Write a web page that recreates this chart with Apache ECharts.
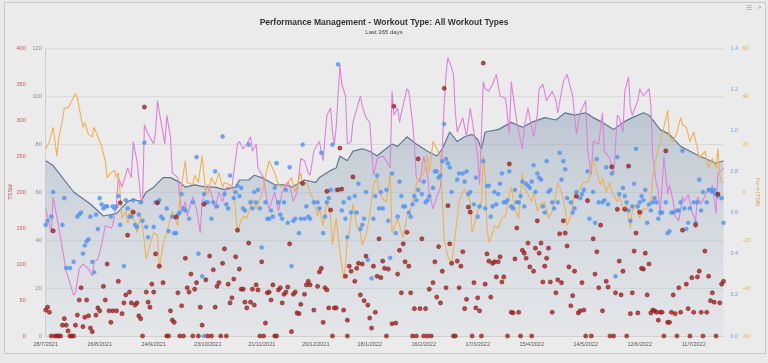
<!DOCTYPE html>
<html><head><meta charset="utf-8">
<script src="https://cdn.jsdelivr.net/npm/echarts@6/dist/echarts.min.js"></script>
<style>
html,body{margin:0;padding:0;background:#e9e9ea;}
#wrap{position:absolute;left:4px;top:2px;width:760px;height:350px;border:1px solid #c9c9c9;background:#ebebec;}
#chart{position:absolute;left:0;top:0;width:768px;height:363px;}
</style></head><body>
<div id="wrap"></div><div id="chart"></div>
<script>
const startDate = '28/7/2021';
const xLabels = ['28/7/2021','26/8/2021','24/9/2021','23/10/2021','21/11/2021','20/12/2021','18/1/2022','16/2/2022','17/3/2022','15/4/2022','14/5/2022','12/6/2022','11/7/2022'];
const tssTicks = [0,50,100,150,200,250,300,350,400];
const loadTicks = [0,20,40,60,80,100,120];
const ifTicks = [0,0.2,0.4,0.6,0.8,1.0,1.2,1.4];
const formTicks = [-60,-40,-20,0,20,40,60];

// CTL (fitness) [day, value]
const ctl = [[0,73],[4,71],[15,60],[24,55],[31,50],[38,51],[44,56],[47,57],[51,56],[54,60],[58,62],[63,66],[67,66],[72,64],[75,62],[80,63],[86,62],[91,62],[96,61],[102,62],[104,65],[109,65],[112,67],[116,66],[123,63],[129,63],[132,62],[139,65],[145,64],[147,66],[153,69],[156,70],[158,75],[162,73],[165,77],[170,78],[174,77],[178,75],[181,77],[186,80],[189,79],[194,83],[199,80],[205,77],[210,75],[213,78],[217,85],[221,81],[225,83],[229,84],[232,82],[234,78],[236,85],[243,86],[250,89],[256,87],[261,89],[268,91],[274,90],[279,93],[284,92],[290,93],[294,91],[299,89],[305,86],[310,89],[315,91],[321,93],[324,92],[330,86],[335,84],[341,79],[346,77],[351,75],[357,73],[360,72],[364,73]];

// ATL (fatigue) [day, value]
const atl = [[0,53],[3,43],[4,58],[8,41],[11,27],[15,17],[16,18],[18,28],[20,30],[23,28],[25,25],[26,31],[28,32],[30,38],[32,46],[35,45],[36,46],[38,55],[39,66],[41,62],[44,70],[46,66],[47,81],[49,73],[51,58],[52,55],[53,88],[55,84],[58,80],[59,85],[60,98],[62,89],[64,80],[65,92],[67,83],[68,68],[71,66],[72,58],[73,52],[75,56],[76,50],[79,58],[81,53],[83,43],[84,56],[87,63],[89,59],[91,53],[93,60],[95,56],[97,62],[100,62],[103,80],[104,81],[106,78],[108,80],[110,83],[111,77],[113,80],[114,70],[117,66],[119,56],[120,53],[123,60],[125,52],[127,60],[130,64],[131,63],[133,56],[135,60],[137,74],[139,73],[141,68],[142,67],[144,77],[146,80],[147,81],[149,73],[151,92],[153,95],[154,85],[155,80],[156,87],[158,113],[159,105],[161,100],[162,80],[164,81],[165,89],[169,100],[170,96],[172,91],[174,89],[176,67],[177,70],[178,74],[181,75],[183,73],[185,70],[186,102],[187,92],[189,95],[190,89],[191,93],[194,103],[195,102],[197,89],[198,80],[199,66],[201,64],[203,75],[205,67],[206,60],[208,53],[210,58],[212,62],[213,78],[214,96],[215,109],[216,116],[217,114],[219,109],[220,93],[221,85],[224,91],[226,83],[228,95],[232,75],[233,63],[235,106],[236,103],[238,102],[240,105],[242,109],[244,100],[247,99],[249,84],[250,106],[253,89],[256,78],[257,87],[259,95],[262,83],[264,92],[265,103],[267,105],[269,98],[272,102],[274,98],[275,93],[278,106],[280,109],[283,100],[285,84],[287,93],[290,98],[291,78],[293,67],[294,81],[297,80],[299,93],[300,77],[303,74],[305,67],[307,92],[308,91],[310,85],[311,102],[313,108],[314,95],[315,92],[318,98],[319,103],[321,100],[324,103],[325,96],[326,75],[328,63],[329,61],[330,50],[332,75],[334,59],[335,63],[337,56],[338,50],[340,48],[342,58],[343,56],[345,59],[347,52],[349,48],[350,58],[352,55],[355,60],[357,60],[358,63],[360,51],[361,68],[363,69],[364,70]];

// TSB (form) [day, value]
const tsb = [[0,18],[2,21],[4,27],[6,15],[7,22],[9,30],[10,35],[12,35],[14,38],[16,41],[17,39],[20,27],[21,29],[23,24],[25,23],[26,27],[28,23],[30,19],[32,13],[33,6],[35,8],[37,9],[38,6],[39,8],[40,-1],[41,-11],[43,-8],[44,-13],[46,-7],[49,-17],[51,-10],[52,-14],[54,-28],[56,-22],[58,-17],[60,-18],[61,-32],[63,-22],[65,-17],[68,-8],[71,-14],[72,-3],[73,3],[75,13],[76,4],[79,3],[80,7],[82,4],[84,15],[86,0],[87,-1],[89,6],[91,3],[93,8],[95,2],[96,4],[99,3],[101,0],[103,-17],[104,-14],[106,-10],[108,-11],[111,-3],[113,-7],[116,-1],[119,10],[120,13],[123,8],[125,3],[127,2],[130,4],[132,6],[134,0],[137,8],[138,3],[140,4],[142,0],[144,-4],[146,-10],[147,-7],[149,-14],[151,-4],[153,-10],[154,-22],[156,-11],[158,-25],[160,-36],[161,-30],[162,-19],[163,-17],[165,-5],[167,-14],[169,-17],[170,-22],[172,-18],[174,-10],[176,3],[178,6],[179,0],[181,-3],[183,-4],[185,8],[186,-17],[189,-11],[190,-14],[192,-19],[194,-10],[196,-7],[197,-4],[199,3],[201,6],[203,8],[205,15],[206,8],[208,21],[210,18],[212,15],[213,-3],[214,-20],[216,-27],[218,-30],[221,-11],[222,-4],[224,0],[225,1],[228,-4],[229,-17],[230,-17],[232,-8],[234,-4],[235,15],[236,6],[237,-15],[238,-21],[240,-17],[241,-14],[243,-15],[245,-11],[247,-10],[248,-5],[250,2],[252,-7],[254,-11],[256,8],[257,2],[259,-1],[261,-4],[262,0],[264,-8],[266,-5],[268,-4],[270,-11],[272,-8],[274,-1],[275,4],[277,0],[279,-7],[280,-14],[282,-10],[284,-1],[286,0],[288,3],[289,4],[291,4],[292,6],[294,14],[296,8],[298,3],[299,6],[301,0],[303,4],[304,0],[307,-4],[308,-1],[310,-7],[312,-5],[314,-15],[315,-8],[317,-5],[319,-11],[321,-7],[323,-7],[325,-3],[326,6],[328,15],[330,21],[332,27],[334,34],[335,23],[337,21],[339,25],[341,31],[342,28],[344,27],[346,21],[348,25],[350,18],[351,14],[354,17],[356,10],[358,14],[360,10],[361,18],[362,7],[363,4],[364,4]];

// Intensity factor per workout [day, IF]
const intensity = [[0,0.54],[1,0.56],[3,0.58],[4,0.70],[9,0.54],[10,0.67],[11,0.33],[13,0.33],[15,0.36],[17,0.58],[18,0.59],[19,0.60],[20,0.40],[21,0.44],[22,0.46],[23,0.47],[24,0.58],[25,0.36],[26,0.31],[27,0.59],[28,0.52],[29,0.67],[30,0.64],[31,0.62],[32,0.63],[33,0.63],[35,0.58],[36,0.63],[37,0.62],[38,0.63],[39,0.68],[40,0.54],[42,0.34],[43,0.66],[44,0.62],[45,0.58],[46,0.58],[47,0.66],[48,0.54],[49,0.53],[50,0.59],[51,0.65],[52,0.56],[53,0.94],[54,0.53],[55,0.48],[58,0.53],[59,0.65],[60,0.65],[61,0.66],[62,0.58],[63,0.57],[65,0.62],[66,0.51],[68,0.58],[69,0.50],[70,0.50],[71,0.59],[72,0.60],[73,0.69],[74,0.62],[75,0.61],[77,0.57],[79,0.65],[81,0.87],[82,0.40],[84,0.29],[85,0.69],[86,0.65],[87,0.65],[89,0.57],[90,0.65],[91,0.80],[92,0.63],[95,0.97],[96,0.69],[97,0.64],[98,0.62],[99,0.78],[101,0.67],[102,0.70],[103,0.73],[104,0.68],[105,0.72],[106,0.62],[107,0.61],[109,0.93],[110,0.65],[111,0.62],[112,0.70],[113,0.65],[114,0.71],[115,0.62],[116,0.43],[118,0.65],[119,0.57],[120,0.57],[121,0.61],[122,0.58],[123,0.72],[124,0.84],[125,0.65],[126,0.59],[127,0.57],[128,0.65],[129,0.71],[130,0.55],[131,0.82],[132,0.34],[133,0.56],[134,0.57],[136,0.50],[137,0.57],[138,0.93],[139,0.57],[140,0.63],[141,0.58],[142,0.57],[144,0.65],[146,0.65],[147,0.62],[148,0.89],[149,0.50],[150,0.58],[151,0.65],[152,0.67],[153,0.71],[154,0.93],[156,0.71],[157,1.32],[159,0.61],[160,0.65],[161,0.57],[162,0.48],[163,0.67],[164,0.60],[166,0.68],[167,0.60],[168,0.74],[169,0.52],[170,0.54],[171,0.57],[172,0.70],[173,0.37],[175,0.28],[176,0.57],[177,0.68],[178,0.78],[179,0.62],[180,0.70],[181,0.62],[183,0.71],[184,0.56],[185,0.38],[186,0.79],[188,0.50],[189,0.58],[190,0.75],[191,0.68],[192,0.63],[193,0.63],[195,0.60],[196,0.58],[197,0.64],[198,0.68],[199,0.66],[200,0.71],[202,0.69],[203,0.75],[204,0.65],[205,0.66],[206,0.68],[208,0.72],[209,0.80],[210,0.80],[211,0.77],[212,0.78],[213,0.85],[214,1.03],[215,0.86],[216,0.84],[217,0.82],[218,0.70],[221,0.76],[222,0.79],[224,0.79],[225,0.75],[226,0.80],[227,0.69],[228,0.70],[230,0.64],[231,0.77],[232,0.58],[233,0.63],[235,0.85],[236,0.62],[237,0.73],[238,0.73],[239,0.58],[240,0.63],[241,0.70],[242,0.64],[243,0.69],[244,0.74],[245,0.79],[246,0.65],[247,0.65],[248,0.66],[249,0.80],[250,0.63],[251,0.62],[252,0.71],[253,0.65],[254,0.65],[255,0.68],[256,0.75],[257,0.63],[258,0.74],[259,0.73],[260,0.72],[261,0.75],[262,0.83],[263,0.70],[264,0.79],[265,0.77],[266,0.76],[267,0.63],[268,0.60],[269,0.85],[270,0.70],[271,0.71],[272,0.65],[273,0.62],[275,0.65],[276,0.89],[277,0.76],[278,0.85],[279,0.81],[280,0.67],[282,0.65],[283,0.60],[284,0.62],[285,0.70],[287,0.67],[288,0.69],[289,0.71],[291,0.80],[292,0.57],[294,0.70],[295,0.55],[296,0.86],[297,0.65],[299,0.65],[300,0.66],[301,0.82],[302,0.64],[304,0.79],[306,0.29],[307,0.87],[308,0.69],[310,0.72],[311,0.68],[312,0.65],[313,0.61],[314,0.56],[315,0.63],[316,0.74],[317,0.91],[318,0.63],[319,0.65],[320,0.68],[321,0.66],[322,0.71],[323,0.55],[324,0.64],[325,0.61],[326,0.65],[327,0.67],[328,0.65],[329,0.57],[330,0.60],[331,0.60],[333,0.65],[334,0.50],[335,0.51],[336,0.60],[337,0.60],[339,0.61],[340,0.61],[341,0.65],[342,0.90],[343,0.62],[344,0.52],[345,0.55],[346,0.62],[348,0.65],[349,0.55],[350,0.65],[351,0.76],[352,0.61],[353,0.70],[355,0.65],[356,0.71],[357,0.71],[358,0.70],[359,0.71],[360,0.69],[361,0.68],[363,0.67],[364,0.55],[85,0.0]];

// TSS per day [day, TSS]
const tss = [[0,36],[1,40],[2,33],[4,146],[9,15],[10,24],[11,15],[12,7],[16,15],[17,29],[18,50],[19,67],[20,13],[21,26],[22,50],[23,28],[24,11],[25,6],[27,29],[28,39],[29,35],[31,69],[32,50],[33,100],[34,35],[35,19],[36,35],[38,35],[39,76],[40,185],[41,31],[42,46],[43,57],[44,140],[45,61],[46,46],[47,172],[48,43],[49,46],[50,28],[51,24],[53,318],[54,61],[55,47],[56,40],[57,72],[58,61],[59,114],[60,185],[61,97],[63,74],[67,35],[68,22],[69,19],[70,165],[71,60],[73,42],[75,108],[76,67],[77,61],[78,86],[80,65],[81,74],[83,40],[84,15],[85,183],[86,78],[88,111],[90,92],[91,40],[92,69],[93,74],[95,101],[96,121],[98,72],[99,46],[100,53],[101,79],[102,110],[103,147],[104,93],[105,65],[106,65],[107,47],[108,39],[109,129],[110,47],[111,65],[112,43],[113,71],[114,64],[116,103],[118,18],[119,60],[120,61],[121,50],[122,71],[125,64],[126,67],[127,46],[128,58],[129,61],[130,68],[131,128],[132,6],[133,58],[134,61],[135,32],[136,31],[137,44],[138,212],[139,58],[140,71],[141,76],
[142,71],[144,36],[146,69],[147,89],[148,94],[149,19],[150,67],[151,64],[151,201],[152,39],[153,175],[155,39],[156,39],[157,203],[158,261],[159,204],[160,36],[161,83],[162,22],[163,97],[164,90],[165,221],[166,76],[167,94],[168,101],[169,57],[170,100],[171,49],[172,111],[173,43],[174,25],[175,11],[176,97],[177,33],[178,83],[179,135],[180,81],[181,104],[182,94],[184,93],[186,17],[187,319],[188,18],[189,86],[190,119],[191,60],[192,128],[193,103],[194,144],[195,97],[196,60],[198,38],[200,246],[201,38],[202,135],[204,38],[206,65],[208,74],[209,103],[210,54],[211,124],[212,46],[213,90],[214,344],[215,67],[216,181],[217,128],[218,101],[221,104],[222,67],[223,97],[224,117],[225,38],[226,51],[227,179],[228,172],[230,74],[231,39],[232,53],[233,35],[235,379],[236,72],[237,114],[238,104],[239,54],[240,101],[241,103],[242,82],[243,103],[244,110],[245,75],[246,82],[249,239],[250,33],[251,32],[252,107],[253,150],[254,33],[256,119],[257,115],[258,108],[259,129],[260,96],[262,90],[263,122],[264,160],[265,115],[266,129],[267,75],[268,97],[269,108],[270,122],[271,75],[272,33],[274,60],[275,78],[276,142],[277,74],[278,160],[279,143],[280,125],[281,96],[282,42],[283,56],[284,90],[285,194],[286,32],[287,35],[288,74],[289,36],
[291,188],[294,135],[295,86],[296,117],[297,67],[298,154],[299,35],[301,76],[302,68],[304,235],[306,60],[307,176],[308,104],[309,57],[310,90],[311,176],[313,236],[314,31],[315,60],[316,118],[317,143],[318,32],[319,172],[320,94],[321,93],[322,115],[323,57],[324,100],[325,32],[326,36],[327,35],[328,33],[329,22],[330,33],[331,33],[333,257],[334,19],[335,19],[336,33],[337,57],[338,31],[340,67],[341,33],[342,147],[344,72],[345,38],[347,81],[348,33],[349,154],[350,82],[351,90],[352,33],[354,118],[355,33],[356,83],[357,49],[358,60],[359,47],[361,197],[362,46],[363,72],[364,76],
[3,0],[5,0],[6,0],[7,0],[8,0],[13,0],[14,0],[15,0],[52,0],[65,0],[66,0],[72,0],[74,0],[79,0],[82,0],[87,0],[89,0],[94,0],[97,0],[115,0],[117,0],[123,0],[124,0],[154,0],[162,0],[183,0],[197,0],[199,0],[203,0],[205,0],[207,0],[219,0],[220,0],[229,0],[234,0],[248,0],[255,0],[261,0],[290,0],[293,0],[303,0],[305,0],[312,0],[332,0],[339,0],[346,0],[353,0],[360,0]];

const FONT = 'Liberation Sans, Arial, sans-serif';
const chart = echarts.init(document.getElementById('chart'), null, {renderer:'canvas'});
const tickStyle = (c) => ({color:c, fontSize:5.5, fontFamily:FONT});
chart.setOption({
  animation:false,
  backgroundColor:'transparent',
  title:{
    text:'Performance Management - Workout Type: All Workout Types',
    subtext:'Last 365 days',
    left:'center', top:13, itemGap:2,
    textStyle:{fontSize:8.5, fontWeight:'bold', color:'#333', fontFamily:FONT},
    subtextStyle:{fontSize:6, color:'#444', fontFamily:FONT}
  },
  graphic:[
    {type:'text', left:746, top:5, style:{text:'\u2630', fontSize:7, fill:'#aaa'}},
    {type:'text', left:756, top:5, style:{text:'\u2197', fontSize:7, fill:'#aaa'}}
  ],
  grid:{left:45.7, right:44.5, top:48, bottom:27, containLabel:false, outerBoundsMode:'none'},
  xAxis:{
    type:'value', min:0, max:364, interval:29,
    axisLine:{show:true, lineStyle:{color:'#d0d0d0'}},
    axisTick:{show:false}, splitLine:{show:false},
    axisLabel:{margin:5, showMaxLabel:false, formatter:(v)=>{const i=v/29; return Number.isInteger(i)&&xLabels[i]?xLabels[i]:'';}, ...tickStyle('#555')}
  },
  yAxis:[
    {type:'value', min:0, max:120, interval:20, position:'left',
     axisLine:{show:true, lineStyle:{color:'#cfcfcf'}}, axisTick:{show:false},
     splitLine:{show:true, lineStyle:{color:'#dadada', width:1}},
     axisLabel:{margin:4, ...tickStyle('#888')}},
    {type:'value', min:0, max:400, interval:50, position:'left', offset:17,
     name:'TSS/d', nameLocation:'middle', nameGap:15, nameRotate:90, nameMoveOverlap:false,
     nameTextStyle:{color:'#b24a45', fontSize:5.5, fontFamily:FONT},
     axisLine:{show:false}, axisTick:{show:false}, splitLine:{show:false},
     axisLabel:{margin:3, ...tickStyle('#b85a55')}},
    {type:'value', min:0, max:1.4, interval:0.2, position:'right',
     axisLine:{show:false}, axisTick:{show:false}, splitLine:{show:false},
     axisLabel:{margin:7, formatter:(v)=>v.toFixed(1), ...tickStyle('#6a9fe0')}},
    {type:'value', min:-60, max:60, interval:20, position:'right', offset:12,
     name:'Form (TSB)', nameLocation:'middle', nameGap:19, nameRotate:-90, nameMoveOverlap:false,
     nameTextStyle:{color:'#e0a040', fontSize:5.5, fontFamily:FONT},
     axisLine:{show:false}, axisTick:{show:false}, splitLine:{show:false},
     axisLabel:{margin:7, align:'left', ...tickStyle('#e8ac4a')}}
  ],
  series:[
    {name:'CTL', type:'line', yAxisIndex:0, data:ctl, symbol:'none', z:1,
     lineStyle:{color:'#5c7891', width:1.2},
     areaStyle:{color:new echarts.graphic.LinearGradient(0,0,0,1,[{offset:0,color:'rgba(128,152,176,0.62)'},{offset:1,color:'rgba(205,213,222,0.35)'}])}},
    {name:'ATL', type:'line', yAxisIndex:0, data:atl, symbol:'none', z:2,
     lineStyle:{color:'#e07fdc', width:1.1}},
    {name:'TSB', type:'line', yAxisIndex:3, data:tsb, symbol:'none', z:3,
     lineStyle:{color:'#f0b04e', width:1.1}},
    {name:'IF', type:'scatter', yAxisIndex:2, data:intensity, symbol:'circle', symbolSize:4.2, z:4,
     itemStyle:{color:'#4d90e8', borderColor:'#6aa5f0', borderWidth:0.5}},
    {name:'TSS', type:'scatter', yAxisIndex:1, data:tss, symbol:'circle', symbolSize:4.2, z:5,
     itemStyle:{color:'#a8231d', borderColor:'#7a1410', borderWidth:0.6}}
  ]
});
</script></body></html>
